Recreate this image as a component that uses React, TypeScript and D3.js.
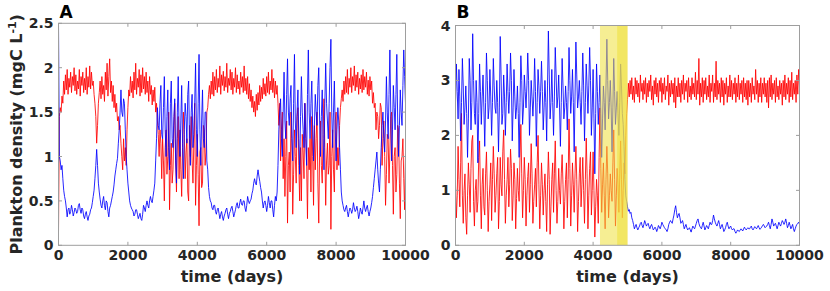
import React from "react";
import * as d3 from "d3";

// sampling grid (days)
const timeDays: number[] = d3.range(0, 10001, 25);

// Panel A series (one row = 500 days)
const redA: number[] = [
  0.15, 1.45, 1.55, 1.5, 1.68, 1.6, 1.85, 1.7, 1.92, 1.75, 1.98, 1.7, 1.88, 1.78, 1.95, 1.72, 1.9, 1.8, 2.0, 1.74,
  1.92, 1.7, 1.85, 1.76, 1.98, 1.68, 1.9, 1.8, 1.95, 1.72, 1.88, 1.75, 2.0, 1.7, 1.9, 1.78, 2.02, 1.76, 1.95, 1.8,
  1.85, 1.7, 1.6, 1.45, 1.15, 1.35, 1.6, 1.72, 1.85, 1.65, 1.9, 1.7, 1.8, 1.62, 1.95, 1.75, 2.05, 1.68, 1.9, 2.1,
  1.72, 1.85, 1.62, 1.8, 1.55, 1.7, 1.5, 1.6, 1.4, 1.45, 1.3, 1.35, 1.15, 1.0, 0.85, 1.2, 0.95, 1.1, 0.9, 1.3,
  1.55, 1.75, 1.68, 1.9, 1.72, 1.85, 1.66, 1.95, 1.75, 2.05, 1.7, 1.88, 1.78, 1.98, 1.68, 1.92, 1.72, 2.0, 1.76, 1.9,
  1.7, 1.95, 1.72, 1.85, 1.62, 1.9, 1.7, 1.8, 1.58, 1.75, 1.62, 1.78, 1.5, 1.6, 1.4, 1.25, 1.0, 1.3, 1.15, 0.75,
  1.2, 0.95, 0.5, 1.1, 1.3, 0.8, 1.0, 1.5, 0.4, 0.9, 1.15, 0.7, 0.85, 1.35, 1.6, 0.95, 0.6, 1.2, 1.45, 0.75,
  1.3, 0.85, 0.55, 1.1, 1.5, 1.25, 0.75, 1.05, 1.2, 0.6, 0.5, 1.35, 1.0, 1.45, 0.95, 0.7, 1.15, 1.6, 0.45, 0.9,
  1.25, 0.8, 0.22, 1.05, 1.1, 0.65, 0.7, 1.35, 1.3, 0.9, 1.05, 1.5, 1.55, 1.7, 1.8, 1.65, 1.85, 1.7, 1.95, 1.68,
  1.9, 1.75, 1.98, 1.72, 1.88, 1.78, 2.02, 1.7, 1.92, 1.8, 1.96, 1.74, 1.9, 1.78, 2.05, 1.72, 1.88, 1.8, 1.98, 1.75,
  1.95, 1.7, 1.88, 1.78, 2.0, 1.72, 1.92, 1.76, 1.85, 1.7, 1.95, 1.78, 1.9, 1.72, 2.02, 1.74, 1.88, 1.7, 1.9, 1.65,
  1.82, 1.62, 1.75, 1.55, 1.68, 1.5, 1.62, 1.45, 1.7, 1.52, 1.72, 1.58, 1.8, 1.62, 1.78, 1.65, 1.88, 1.7, 1.82, 1.68,
  1.9, 1.72, 1.95, 1.7, 1.85, 1.75, 1.98, 1.72, 1.88, 1.66, 1.85, 1.7, 1.8, 1.6, 1.35, 1.6, 0.95, 1.3, 1.5, 0.75,
  1.2, 0.55, 1.0, 1.4, 0.25, 0.9, 1.05, 0.6, 1.5, 1.2, 0.35, 0.8, 1.3, 1.0, 0.7, 1.45, 1.55, 0.9, 0.5, 1.1,
  0.5, 1.25, 1.05, 0.75, 1.6, 1.3, 0.95, 0.3, 1.1, 0.85, 1.2, 0.6, 1.45, 1.0, 0.45, 1.35, 0.85, 1.2, 1.5, 0.7,
  0.25, 1.05, 1.4, 0.9, 0.7, 1.25, 1.65, 1.1, 0.45, 0.95, 1.15, 0.8, 0.9, 1.5, 0.18, 1.0, 1.3, 0.85, 0.6, 1.4,
  1.5, 0.85, 1.1, 0.9, 1.35, 1.55, 1.65, 1.75, 1.62, 1.85, 1.7, 1.9, 1.72, 1.98, 1.7, 1.88, 1.78, 2.0, 1.72, 1.9,
  1.8, 2.02, 1.74, 1.92, 1.78, 1.95, 1.7, 1.88, 1.76, 1.92, 1.72, 1.98, 1.75, 1.9, 1.78, 1.95, 1.7, 1.86, 1.68, 1.9,
  1.75, 1.85, 1.6, 1.72, 1.55, 1.6, 1.3, 1.5, 1.45, 1.2, 1.35, 1.6, 1.55, 0.9, 1.2, 1.4, 1.0, 0.45, 0.8, 1.25,
  1.2, 0.7, 1.05, 1.45, 1.5, 0.9, 0.35, 1.0, 1.1, 0.6, 0.8, 1.35, 1.3, 0.7, 0.3, 0.95, 1.0, 1.2, 0.75, 0.4,
  1.05,
];
const blueA: number[] = [
  2.5, 1.0, 0.95, 0.85, 0.9, 0.75, 0.62, 0.55, 0.5, 0.42, 0.32, 0.4, 0.42, 0.35, 0.38, 0.45, 0.4, 0.33, 0.37, 0.42,
  0.4, 0.36, 0.38, 0.45, 0.47, 0.4, 0.36, 0.42, 0.4, 0.33, 0.3, 0.35, 0.38, 0.32, 0.28, 0.33, 0.35, 0.4, 0.42, 0.48,
  0.55, 0.62, 0.75, 0.9, 1.08, 0.9, 0.7, 0.6, 0.52, 0.45, 0.42, 0.5, 0.55, 0.45, 0.4, 0.5, 0.48, 0.38, 0.32, 0.42,
  0.45, 0.5, 0.55, 0.6, 0.68, 0.78, 0.85, 0.92, 0.98, 1.15, 1.3, 1.5, 1.75, 1.5, 1.45, 1.65, 1.6, 1.3, 1.0, 0.85,
  0.7, 0.6, 0.5, 0.45, 0.42, 0.4, 0.38, 0.33, 0.35, 0.4, 0.4, 0.35, 0.3, 0.33, 0.36, 0.3, 0.28, 0.35, 0.45, 0.42,
  0.38, 0.45, 0.5, 0.45, 0.42, 0.5, 0.55, 0.5, 0.48, 0.55, 0.62, 0.7, 0.95, 1.2, 1.55, 1.35, 1.3, 1.6, 1.8, 1.25,
  1.2, 1.55, 1.9, 1.3, 1.0, 1.45, 1.75, 1.1, 0.85, 1.6, 1.85, 1.2, 1.1, 1.45, 1.65, 0.95, 0.7, 1.5, 1.9, 1.3,
  1.0, 1.4, 1.8, 1.15, 0.75, 1.3, 1.6, 1.45, 1.15, 1.7, 1.85, 1.2, 0.9, 1.5, 1.7, 1.1, 1.25, 1.6, 2.05, 1.3,
  1.0, 1.6, 2.15, 1.3, 0.9, 1.4, 1.75, 1.2, 1.1, 1.5, 1.5, 0.95, 0.85, 0.65, 0.55, 0.5, 0.48, 0.42, 0.4, 0.45,
  0.45, 0.38, 0.35, 0.4, 0.42, 0.36, 0.3, 0.35, 0.38, 0.32, 0.28, 0.33, 0.36, 0.4, 0.42, 0.35, 0.3, 0.36, 0.38, 0.42,
  0.44, 0.38, 0.32, 0.36, 0.4, 0.45, 0.48, 0.42, 0.42, 0.48, 0.52, 0.46, 0.45, 0.5, 0.5, 0.42, 0.38, 0.45, 0.55, 0.5,
  0.47, 0.5, 0.52, 0.58, 0.62, 0.7, 0.75, 0.7, 0.68, 0.78, 0.85, 0.78, 0.72, 0.65, 0.6, 0.5, 0.42, 0.48, 0.5, 0.45,
  0.38, 0.45, 0.55, 0.48, 0.42, 0.5, 0.5, 0.4, 0.32, 0.45, 0.55, 0.5, 0.6, 0.9, 1.3, 1.5, 1.65, 1.2, 1.0, 1.5,
  1.95, 1.4, 1.2, 1.7, 2.1, 1.5, 1.35, 1.65, 1.8, 1.2, 0.95, 1.6, 2.15, 1.4, 1.1, 1.5, 1.75, 1.2, 0.8, 1.45,
  1.9, 1.5, 1.3, 1.1, 1.6, 1.2, 0.9, 1.7, 2.2, 1.5, 1.2, 1.6, 1.85, 1.3, 0.95, 1.35, 1.7, 1.5, 1.35, 1.8,
  2.0, 1.4, 1.0, 1.45, 1.75, 1.2, 0.85, 1.6, 2.05, 1.6, 1.4, 1.2, 1.6, 2.0, 2.32, 1.5, 1.1, 1.5, 1.85, 1.3,
  0.95, 1.3, 1.55, 1.4, 1.1, 0.85, 0.6, 0.5, 0.45, 0.4, 0.38, 0.42, 0.45, 0.38, 0.32, 0.38, 0.42, 0.4, 0.36, 0.4,
  0.48, 0.42, 0.38, 0.4, 0.44, 0.38, 0.3, 0.35, 0.42, 0.38, 0.35, 0.42, 0.5, 0.42, 0.38, 0.42, 0.45, 0.38, 0.33, 0.38,
  0.42, 0.48, 0.55, 0.65, 0.75, 0.85, 0.95, 1.05, 0.85, 0.7, 0.6, 0.85, 1.1, 1.35, 1.5, 1.2, 1.05, 1.4, 1.9, 1.5,
  1.2, 1.7, 2.2, 1.5, 0.95, 1.3, 1.8, 1.55, 1.3, 1.7, 2.15, 1.4, 1.0, 1.35, 1.75, 1.5, 1.35, 1.8, 2.2, 1.9,
  1.6,
];

// Panel B series (one row = 500 days)
const redB: number[] = [
  1.1, 0.5, 0.9, 1.8, 1.2, 0.7, 1.5, 2.4, 0.9, 0.4, 1.0, 1.3, 0.5, 0.2, 0.9, 1.5, 1.1, 0.6, 1.4, 1.9,
  2.0, 0.8, 0.35, 1.0, 1.2, 0.6, 0.8, 1.6, 1.9, 0.9, 0.3, 1.1, 1.4, 0.7, 0.55, 1.3, 1.7, 1.0, 0.25, 0.8,
  1.1, 1.5, 0.45, 1.2, 1.8, 1.3, 0.6, 0.9, 1.3, 1.6, 0.3, 0.8, 1.6, 1.1, 0.9, 1.7, 2.1, 1.2, 0.4, 0.9,
  1.2, 1.6, 0.7, 1.1, 1.75, 1.4, 0.45, 0.9, 1.5, 1.2, 0.3, 0.85, 1.4, 1.0, 0.8, 1.6, 2.2, 1.3, 0.5, 1.0,
  1.6, 1.2, 0.35, 0.9, 1.25, 1.5, 0.6, 1.1, 1.85, 1.3, 0.4, 0.8, 1.1, 1.4, 0.7, 1.5, 2.0, 1.1, 0.3, 0.9,
  1.5, 1.1, 0.55, 1.0, 1.3, 0.8, 0.25, 1.1, 1.7, 1.2, 0.2, 0.7, 1.2, 1.5, 0.6, 1.3, 1.9, 1.0, 0.4, 0.8,
  1.4, 1.0, 0.75, 1.3, 1.65, 1.1, 0.3, 0.8, 1.2, 1.5, 0.5, 1.2, 2.3, 1.4, 0.35, 0.9, 1.5, 1.1, 0.6, 1.3,
  1.8, 1.2, 0.25, 0.8, 1.3, 1.6, 0.7, 1.1, 1.6, 1.0, 0.4, 1.2, 1.95, 1.3, 0.3, 0.9, 1.4, 1.7, 0.55, 1.0,
  1.7, 1.0, 0.15, 0.7, 1.2, 0.9, 0.4, 1.6, 2.5, 1.4, 0.6, 1.1, 1.5, 0.9, 0.3, 1.2, 1.8, 1.3, 0.5, 0.9,
  1.3, 1.0, 0.8, 1.5, 2.1, 1.2, 0.35, 0.9, 1.4, 1.1, 0.6, 1.3, 1.9, 1.2, 0.5, 1.0, 1.5, 1.3, 2.0, 2.4,
  2.65, 2.95, 2.7, 3.0, 2.75, 3.05, 2.65, 2.9, 2.6, 3.05, 2.75, 3.0, 2.7, 2.95, 2.6, 3.1, 2.8, 2.95, 2.65, 3.0,
  2.75, 3.05, 2.6, 2.95, 2.7, 3.0, 2.8, 3.1, 2.65, 2.9, 2.55, 3.0, 2.75, 3.05, 2.7, 2.95, 2.6, 3.0, 2.8, 3.05,
  2.6, 2.95, 2.75, 3.05, 2.65, 2.9, 2.8, 3.1, 2.55, 2.95, 2.7, 3.0, 2.75, 2.95, 2.6, 3.05, 2.5, 2.9, 2.7, 3.05,
  2.7, 2.95, 2.6, 3.0, 2.75, 3.1, 2.65, 2.95, 2.8, 3.0, 2.6, 3.05, 2.7, 2.9, 2.65, 3.05, 2.75, 2.95, 2.7, 3.15,
  2.65, 3.0, 2.75, 3.4, 2.55, 2.95, 2.7, 3.05, 2.6, 3.0, 2.75, 3.05, 2.65, 2.9, 2.7, 3.1, 2.6, 2.95, 2.8, 3.1,
  2.6, 2.95, 2.7, 3.35, 2.65, 3.0, 2.75, 2.95, 2.6, 3.05, 2.7, 3.0, 2.55, 2.95, 2.75, 3.05, 2.6, 2.9, 2.7, 3.1,
  2.7, 3.0, 2.65, 2.95, 2.75, 3.05, 2.6, 2.95, 2.7, 3.1, 2.65, 2.95, 2.75, 3.0, 2.6, 3.05, 2.7, 2.95, 2.65, 3.0,
  2.55, 3.0, 2.7, 2.95, 2.6, 3.05, 2.75, 2.9, 2.65, 3.2, 2.75, 3.0, 2.6, 2.95, 2.7, 3.05, 2.6, 2.95, 2.75, 3.05,
  2.7, 2.95, 2.6, 3.0, 2.5, 3.05, 2.7, 3.1, 2.65, 2.95, 2.75, 3.0, 2.6, 3.05, 2.7, 2.9, 2.65, 3.0, 2.75, 2.95,
  2.55, 3.0, 2.7, 3.1, 2.65, 2.95, 2.75, 3.05, 2.6, 3.0, 2.7, 3.15, 2.65, 2.95, 2.75, 3.0, 2.6, 3.1, 2.75, 3.2,
  2.9,
];
const blueB: number[] = [
  2.6, 3.3, 2.8, 2.3, 3.2, 2.7, 1.9, 2.6, 3.4, 2.9, 2.2, 2.5, 2.9, 2.4, 1.6, 2.3, 3.4, 3.0, 2.1, 2.6,
  3.85, 3.0, 2.4, 2.2, 3.0, 2.6, 1.5, 2.4, 3.3, 2.8, 2.2, 2.7, 3.1, 2.5, 1.8, 2.6, 3.5, 3.0, 2.3, 2.5,
  3.2, 2.7, 2.0, 2.6, 3.4, 2.9, 2.5, 2.4, 3.0, 2.6, 1.7, 2.5, 3.8, 3.1, 2.2, 2.4, 3.1, 2.7, 2.0, 2.6,
  3.3, 2.8, 2.4, 2.8, 3.5, 3.0, 1.9, 2.5, 3.2, 2.7, 2.3, 2.5, 2.9, 2.4, 1.6, 2.6, 3.45, 3.0, 2.2, 2.5,
  3.1, 2.8, 2.5, 2.9, 3.5, 3.0, 2.0, 2.5, 3.0, 2.7, 2.35, 2.7, 3.4, 2.8, 1.8, 2.6, 3.2, 2.9, 2.4, 2.8,
  3.35, 2.8, 2.1, 2.5, 3.0, 2.6, 1.9, 2.9, 3.9, 3.1, 2.3, 2.6, 3.2, 2.6, 2.0, 2.7, 3.6, 3.1, 2.5, 2.7,
  3.1, 2.5, 1.8, 2.6, 3.4, 2.9, 2.3, 2.5, 2.9, 2.6, 2.1, 2.8, 3.6, 3.0, 2.4, 2.7, 3.2, 2.6, 1.7, 2.7,
  3.7, 3.1, 2.5, 2.7, 3.0, 2.6, 2.2, 2.8, 3.5, 2.9, 1.9, 2.6, 3.3, 2.9, 2.4, 2.9, 3.6, 3.0, 2.0, 2.5,
  3.2, 2.3, 1.3, 2.4, 3.3, 2.8, 2.2, 2.6, 3.1, 2.4, 1.6, 2.3, 2.9, 2.6, 2.1, 2.9, 3.75, 3.0, 2.3, 2.6,
  3.0, 2.5, 1.7, 2.5, 3.4, 2.8, 2.2, 2.5, 2.8, 2.4, 2.0, 2.6, 3.3, 2.9, 2.4, 2.2, 1.8, 1.2, 0.9, 0.8,
  0.7, 0.62, 0.65, 0.58, 0.6, 0.5, 0.45, 0.38, 0.3, 0.34, 0.38, 0.32, 0.28, 0.32, 0.35, 0.4, 0.42, 0.36, 0.32, 0.38,
  0.45, 0.4, 0.35, 0.38, 0.4, 0.34, 0.3, 0.35, 0.38, 0.33, 0.28, 0.3, 0.33, 0.3, 0.25, 0.3, 0.36, 0.33, 0.3, 0.35,
  0.42, 0.38, 0.35, 0.32, 0.3, 0.28, 0.25, 0.3, 0.38, 0.42, 0.45, 0.42, 0.4, 0.48, 0.55, 0.65, 0.72, 0.6, 0.5, 0.55,
  0.58, 0.5, 0.4, 0.42, 0.45, 0.38, 0.3, 0.34, 0.38, 0.32, 0.28, 0.3, 0.32, 0.28, 0.24, 0.3, 0.35, 0.32, 0.3, 0.35,
  0.4, 0.45, 0.48, 0.4, 0.35, 0.32, 0.3, 0.36, 0.42, 0.35, 0.28, 0.32, 0.36, 0.33, 0.3, 0.36, 0.42, 0.38, 0.38, 0.45,
  0.55, 0.48, 0.42, 0.38, 0.35, 0.4, 0.45, 0.38, 0.3, 0.34, 0.38, 0.32, 0.25, 0.28, 0.32, 0.38, 0.42, 0.35, 0.3, 0.33,
  0.35, 0.3, 0.28, 0.3, 0.3, 0.25, 0.22, 0.25, 0.28, 0.26, 0.25, 0.28, 0.3, 0.28, 0.26, 0.3, 0.33, 0.3, 0.28, 0.3,
  0.32, 0.3, 0.3, 0.33, 0.35, 0.3, 0.28, 0.31, 0.34, 0.32, 0.3, 0.33, 0.36, 0.32, 0.29, 0.31, 0.33, 0.36, 0.38, 0.35,
  0.32, 0.34, 0.35, 0.38, 0.42, 0.36, 0.3, 0.38, 0.48, 0.42, 0.35, 0.38, 0.4, 0.35, 0.3, 0.36, 0.42, 0.38, 0.35, 0.4,
  0.45, 0.42, 0.38, 0.42, 0.48, 0.4, 0.32, 0.36, 0.42, 0.36, 0.3, 0.34, 0.38, 0.3, 0.25, 0.3, 0.35, 0.38, 0.4, 0.42,
  0.38,
];

const xTicks = [0, 2000, 4000, 6000, 8000, 10000];
const yTicksA = [0, 0.5, 1, 1.5, 2, 2.5];
const yTicksB = [0, 1, 2, 3, 4];
const highlightSpans: [number, number][] = [
  [4200, 5000],
  [4700, 5000],
];

const FONT = "'DejaVu Sans', 'Liberation Sans', sans-serif";
const AXIS_COLOR = "#9e9e9e";
const TEXT_COLOR = "#262626";

type PanelProps = {
  id: string;
  label: string;
  left: number;
  right: number;
  top: number;
  bottom: number;
  yMax: number;
  yTicks: number[];
  red: number[];
  blue: number[];
  spans?: [number, number][];
};

function Panel({ id, label, left, right, top, bottom, yMax, yTicks, red, blue, spans = [] }: PanelProps) {
  const x = d3.scaleLinear().domain([0, 10000]).range([left, right]);
  const y = d3.scaleLinear().domain([0, yMax]).range([bottom, top]);
  const line = d3
    .line<number>()
    .x((_, i) => x(timeDays[i]))
    .y((d) => y(d));
  const tickLen = 3.5;
  const fmt = (v: number) => String(v);
  return (
    <g>
      <defs>
        <clipPath id={`clip-${id}`}>
          <rect x={left} y={top} width={right - left} height={bottom - top} />
        </clipPath>
      </defs>
      <rect x={left} y={top} width={right - left} height={bottom - top} fill="#fff" />
      <g clipPath={`url(#clip-${id})`}>
        <path d={line(red) || ""} fill="none" stroke="#ff0000" strokeWidth={0.85} strokeLinejoin="round" />
        <path d={line(blue) || ""} fill="none" stroke="#0000ff" strokeWidth={0.85} strokeLinejoin="round" />
        {spans.map(([a, b], i) => (
          <rect key={i} x={x(a)} y={top} width={x(b) - x(a)} height={bottom - top} fill="#efe03a" opacity={0.55} />
        ))}
      </g>
      <rect x={left} y={top} width={right - left} height={bottom - top} fill="none" stroke={AXIS_COLOR} strokeWidth={1} />
      {xTicks.map((t) => (
        <g key={`x${t}`}>
          <line x1={x(t)} x2={x(t)} y1={bottom} y2={bottom - tickLen} stroke={AXIS_COLOR} />
          <line x1={x(t)} x2={x(t)} y1={top} y2={top + tickLen} stroke={AXIS_COLOR} />
          <text x={x(t)} y={260} textAnchor="middle" fontSize={14} fontWeight="bold" fill={TEXT_COLOR} fontFamily={FONT}>
            {fmt(t)}
          </text>
        </g>
      ))}
      {yTicks.map((v) => (
        <g key={`y${v}`}>
          <line x1={left} x2={left + tickLen} y1={y(v)} y2={y(v)} stroke={AXIS_COLOR} />
          <line x1={right} x2={right - tickLen} y1={y(v)} y2={y(v)} stroke={AXIS_COLOR} />
          <text x={left - 5} y={y(v)} dy="0.36em" textAnchor="end" fontSize={14} fontWeight="bold" fill={TEXT_COLOR} fontFamily={FONT}>
            {fmt(v)}
          </text>
        </g>
      ))}
      <text x={(left + right) / 2} y={282} textAnchor="middle" fontSize={16} fontWeight="bold" fill={TEXT_COLOR} fontFamily={FONT}>
        time (days)
      </text>
      <text x={left + 1} y={17.5} fontSize={17} fontWeight="bold" fill="#000" fontFamily={FONT}>
        {label}
      </text>
    </g>
  );
}

export default function App() {
  const topA = 23.3;
  const bottom = 245.3;
  return (
    <svg
      width={830}
      height={291}
      viewBox="0 0 830 291"
      style={{ position: "absolute", left: 0, top: 0, background: "#fff" }}
    >
      <rect x={0} y={0} width={830} height={291} fill="#fff" />
      <Panel id="A" label="A" left={58.5} right={405.5} top={topA} bottom={bottom} yMax={2.5} yTicks={yTicksA} red={redA} blue={blueA} />
      <Panel id="B" label="B" left={455.5} right={799.5} top={25.5} bottom={bottom} yMax={4} yTicks={yTicksB} red={redB} blue={blueB} spans={highlightSpans} />
      <text
        transform={`translate(22,${(topA + bottom) / 2}) rotate(-90)`}
        textAnchor="middle"
        fontSize={16}
        fontWeight="bold"
        fill={TEXT_COLOR}
        fontFamily={FONT}
      >
        Plankton density (mgC L
        <tspan fontSize={11} dy={-6}>-1</tspan>
        <tspan dy={6}>)</tspan>
      </text>
    </svg>
  );
}
